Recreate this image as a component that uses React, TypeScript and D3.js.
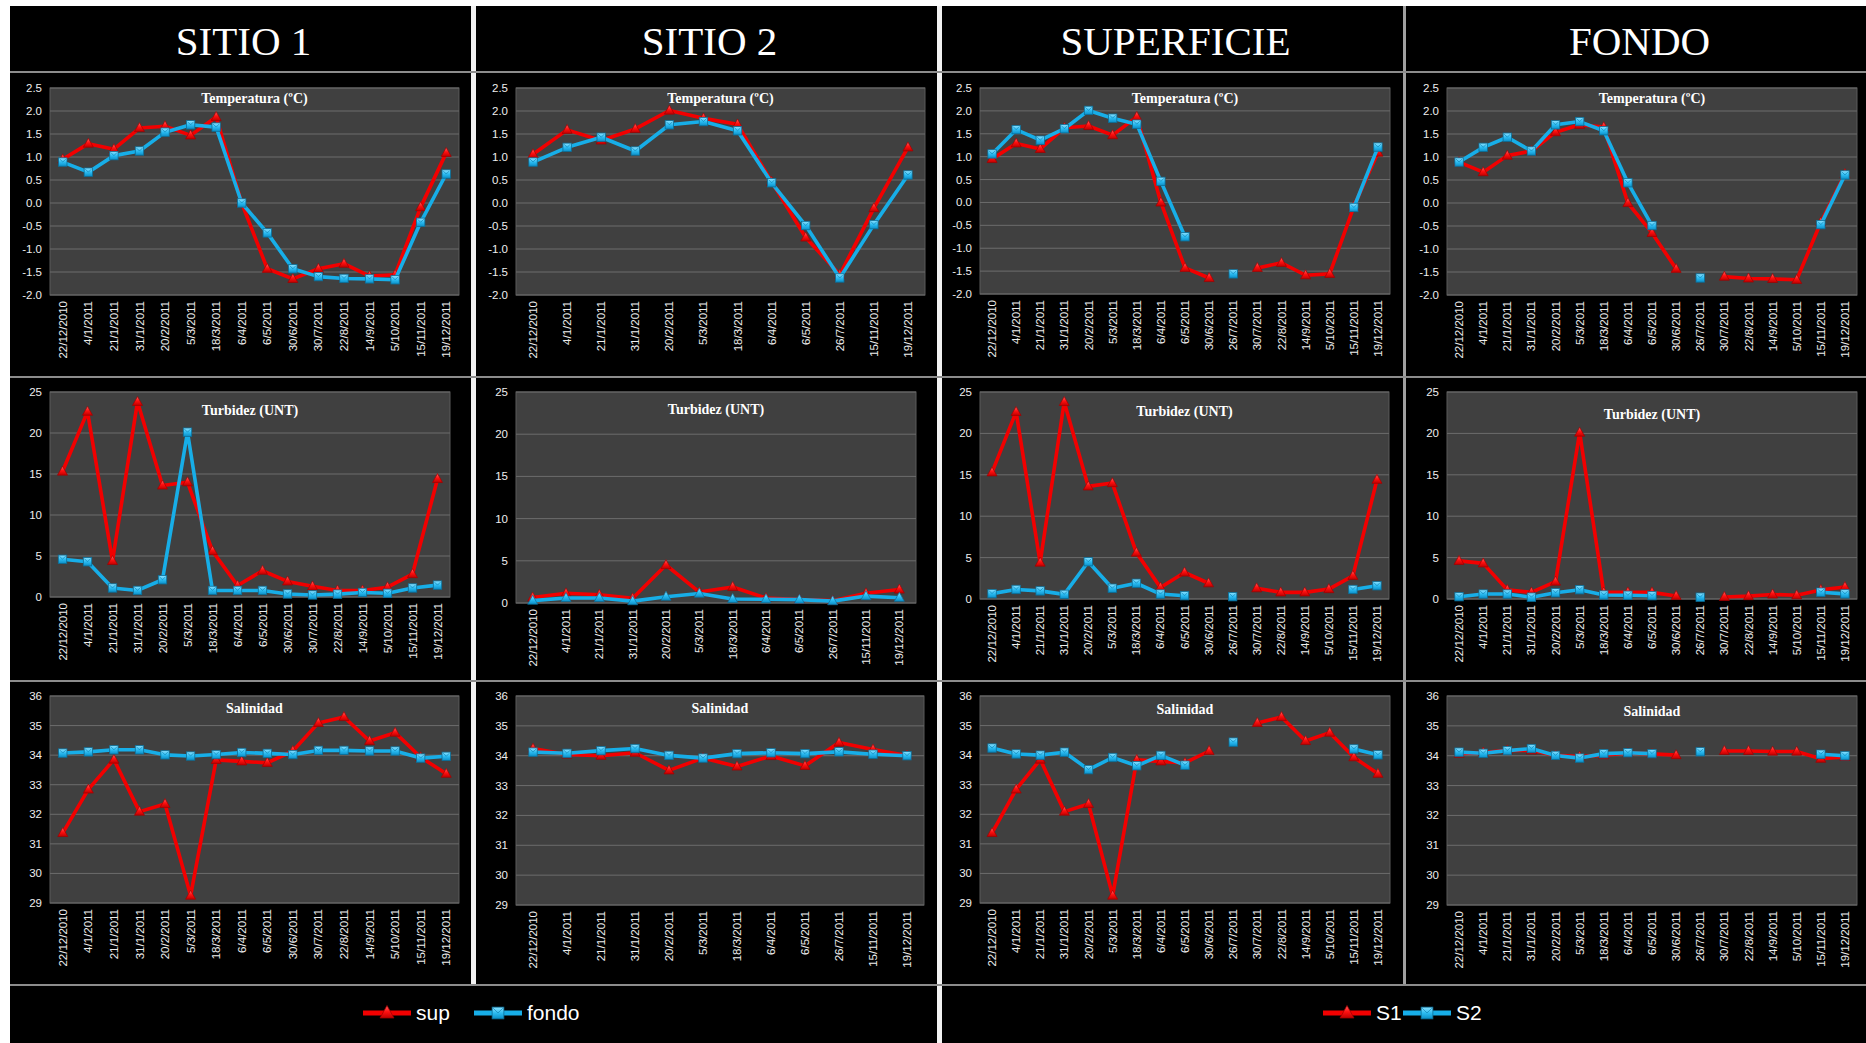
import React from 'react';
import * as d3 from 'd3';

// ---------- DATA ----------
const DATES_SITIO1 = ["22/12/2010","4/1/2011","21/1/2011","31/1/2011","20/2/2011","5/3/2011","18/3/2011","6/4/2011","6/5/2011","30/6/2011","30/7/2011","22/8/2011","14/9/2011","5/10/2011","15/11/2011","19/12/2011"];
const DATES_SITIO2 = ["22/12/2010","4/1/2011","21/1/2011","31/1/2011","20/2/2011","5/3/2011","18/3/2011","6/4/2011","6/5/2011","26/7/2011","15/11/2011","19/12/2011"];
const DATES_ALL = ["22/12/2010","4/1/2011","21/1/2011","31/1/2011","20/2/2011","5/3/2011","18/3/2011","6/4/2011","6/5/2011","30/6/2011","26/7/2011","30/7/2011","22/8/2011","14/9/2011","5/10/2011","15/11/2011","19/12/2011"];

const TEMP_S1_SUP = [0.95,1.29,1.17,1.63,1.67,1.47,1.87,0.0,-1.43,-1.65,-1.43,-1.32,-1.59,-1.56,-0.09,1.09];
const TEMP_S1_FONDO = [0.89,0.67,1.03,1.13,1.54,1.70,1.65,0.0,-0.65,-1.43,-1.60,-1.64,-1.65,-1.67,-0.42,0.63];
const TEMP_S2_SUP = [1.06,1.59,1.36,1.61,2.01,1.84,1.71,0.46,-0.75,-1.56,-0.11,1.21];
const TEMP_S2_FONDO = [0.89,1.21,1.43,1.13,1.70,1.77,1.57,0.44,-0.49,-1.63,-0.47,0.61];

const TURB_S1_SUP = [15.3,22.6,4.4,23.8,13.6,14.0,5.6,1.4,3.2,1.9,1.3,0.8,0.8,1.2,2.8,14.4];
const TURB_S1_FONDO = [4.6,4.3,1.1,0.8,2.1,20.1,0.8,0.8,0.8,0.37,0.25,0.35,0.55,0.45,1.1,1.45];
const TURB_S2_SUP = [0.65,1.15,0.98,0.56,4.5,1.3,1.9,0.6,0.4,0.28,1.15,1.6];
const TURB_S2_FONDO = [0.28,0.6,0.6,0.22,0.75,1.12,0.48,0.45,0.4,0.22,0.82,0.62];

const SAL_S1_SUP = [31.37,32.84,33.85,32.09,32.35,29.25,33.84,33.79,33.74,34.14,35.09,35.29,34.48,34.76,33.93,33.37];
const SAL_S1_FONDO = [34.07,34.11,34.18,34.18,34.01,33.97,34.02,34.09,34.06,34.02,34.16,34.16,34.14,34.14,33.90,33.96];
const SAL_S2_SUP = [34.24,34.04,34.00,34.10,33.51,33.92,33.64,33.99,33.66,34.44,34.21,34.01];
const SAL_S2_FONDO = [34.12,34.08,34.17,34.24,34.01,33.92,34.07,34.10,34.07,34.13,34.05,34.00];

const HEADERS = ["SITIO 1", "SITIO 2", "SUPERFICIE", "FONDO"];
const ROW_TITLES = ["Temperatura (ºC)", "Turbidez (UNT)", "Salinidad"];
const TEMP_TICKS = [-2.0,-1.5,-1.0,-0.5,0.0,0.5,1.0,1.5,2.0,2.5];
const TURB_TICKS = [0,5,10,15,20,25];
const SAL_TICKS = [29,30,31,32,33,34,35,36];
const LEGEND_SITE = ["sup", "fondo"];
const LEGEND_CMP = ["S1", "S2"];

// ---------- HELPERS ----------
type V = number | null;
function byDate(dates: string[], values: number[], target: string[]): V[] {
  return target.map(d => { const i = dates.indexOf(d); return i < 0 ? null : values[i]; });
}

const RED = "#f20000";
const BLUE = "#17aee8";
const W = 1866, H = 1043;

const COL_X0 = [10, 476, 942, 1407];
const COL_X1 = [471, 937, 1403, 1866];
const PLOT_LEFT = [50, 516, 980, 1447];
const PLOT_RIGHT = [[459, 925, 1390, 1857], [450, 916, 1389, 1857], [459, 924, 1390, 1857]];
const PLOT_TOP = [88, 392, 696];
const PLOT_BOTTOM = [[295, 295, 294, 295], [597, 603, 599, 599], [903, 905, 903, 905]];
const TITLE_Y = [[98, 98, 98, 98], [410, 409, 411, 414], [708, 708, 709, 711]];

const ROW_DEF = [
  { ticks: TEMP_TICKS, fmt: (v: number) => v.toFixed(1), s1: [TEMP_S1_SUP, TEMP_S1_FONDO], s2: [TEMP_S2_SUP, TEMP_S2_FONDO] },
  { ticks: TURB_TICKS, fmt: (v: number) => String(v), s1: [TURB_S1_SUP, TURB_S1_FONDO], s2: [TURB_S2_SUP, TURB_S2_FONDO] },
  { ticks: SAL_TICKS, fmt: (v: number) => String(v), s1: [SAL_S1_SUP, SAL_S1_FONDO], s2: [SAL_S2_SUP, SAL_S2_FONDO] },
];

function Triangle({ x, y, s = 1, blue = false }: { x: number; y: number; s?: number; blue?: boolean }) {
  const w = 5 * s, h = 9 * s;
  return <path d={`M${x},${y - h * 0.6}L${x + w},${y + h * 0.4}L${x - w},${y + h * 0.4}Z`} fill={blue ? "url(#gBlue)" : "url(#gRed)"} stroke={blue ? "#0b6f99" : "#a00000"} strokeWidth={0.7} />;
}
function Square({ x, y, s = 1 }: { x: number; y: number; s?: number }) {
  const a = 4.2 * s;
  return (
    <g>
      <rect x={x - a} y={y - a} width={2 * a} height={2 * a} fill="url(#gBlue)" stroke="#0b6f99" strokeWidth={0.8} />
      <path d={`M${x - a + 1},${y - a + 1}L${x},${y}L${x + a - 1},${y - a + 1}`} fill="none" stroke="#0d7fb0" strokeWidth={0.8} opacity={0.8} />
    </g>
  );
}

function Panel({ r, c }: { r: number; c: number }) {
  const def = ROW_DEF[r];
  let dates: string[], red: V[], blue: V[];
  if (c === 0) { dates = DATES_SITIO1; red = def.s1[0]; blue = def.s1[1]; }
  else if (c === 1) { dates = DATES_SITIO2; red = def.s2[0]; blue = def.s2[1]; }
  else {
    const k = c === 2 ? 0 : 1;
    dates = DATES_ALL;
    red = byDate(DATES_SITIO1, def.s1[k], DATES_ALL);
    blue = byDate(DATES_SITIO2, def.s2[k], DATES_ALL);
  }
  const left = PLOT_LEFT[c], right = PLOT_RIGHT[r][c], top = PLOT_TOP[r], bottom = PLOT_BOTTOM[r][c];
  const x = d3.scalePoint<string>().domain(dates).range([left, right]).padding(0.5);
  const ticks = def.ticks;
  const y = d3.scaleLinear().domain([ticks[0], ticks[ticks.length - 1]]).range([bottom, top]);
  const line = d3.line<V>().defined(v => v != null).x((_, i) => x(dates[i])!).y(v => y(v as number));
  const blueTri = r === 1 && c === 1;
  return (
    <g>
      <rect x={left} y={top} width={right - left} height={bottom - top} fill="#404040" stroke="#5a5a5a" strokeWidth={1} />
      {ticks.map(t => (
        <line key={t} x1={left} x2={right} y1={y(t)} y2={y(t)} stroke="#6c6c6c" strokeWidth={1} />
      ))}
      {ticks.map(t => (
        <text key={'l' + t} x={left - 8} y={y(t)} dy="0.35em" textAnchor="end" fill="#eeeeee" fontFamily="Arial, 'Liberation Sans', sans-serif" fontSize={11.5}>{def.fmt(t)}</text>
      ))}
      {dates.map(d => (
        <text key={d} transform={`translate(${x(d)},${bottom + 6}) rotate(-90)`} dy="0.35em" textAnchor="end" fill="#eeeeee" fontFamily="Arial, 'Liberation Sans', sans-serif" fontSize={11.5}>{d}</text>
      ))}
      <text x={(left + right) / 2} y={TITLE_Y[r][c]} dy="0.35em" textAnchor="middle" fill="#ffffff" fontFamily="'Liberation Serif', 'Times New Roman', serif" fontWeight="bold" fontSize={14}>{ROW_TITLES[r]}</text>
      <path d={line(red) || ''} fill="none" stroke={RED} strokeWidth={3.6} strokeLinejoin="round" />
      {red.map((v, i) => v == null ? null : <Triangle key={'r' + i} x={x(dates[i])!} y={y(v)} />)}
      <path d={line(blue) || ''} fill="none" stroke={BLUE} strokeWidth={3.6} strokeLinejoin="round" />
      {blue.map((v, i) => v == null ? null : (blueTri ? <Triangle key={'b' + i} x={x(dates[i])!} y={y(v)} blue /> : <Square key={'b' + i} x={x(dates[i])!} y={y(v)} />))}
    </g>
  );
}

function LegendItem({ x, y, label, kind }: { x: number; y: number; label: string; kind: 'red' | 'blue' }) {
  const w = 48;
  return (
    <g>
      <line x1={x} x2={x + w} y1={y} y2={y} stroke={kind === 'red' ? RED : BLUE} strokeWidth={5} />
      {kind === 'red' ? <Triangle x={x + w / 2} y={y} s={1.4} /> : <Square x={x + w / 2} y={y} s={1.4} />}
      <text x={x + w + 5} y={y} dy="0.35em" fill="#ffffff" fontFamily="Arial, 'Liberation Sans', sans-serif" fontSize={21}>{label}</text>
    </g>
  );
}

export default function App() {
  return (
    <svg width={W} height={H} style={{ position: 'absolute', left: 0, top: 0, display: 'block' }}>
      <defs>
        <linearGradient id="gBlue" x1="0" y1="0" x2="0" y2="1">
          <stop offset="0" stopColor="#8fe2ff" />
          <stop offset="0.5" stopColor="#2cbcf2" />
          <stop offset="1" stopColor="#0a8fc8" />
        </linearGradient>
        <linearGradient id="gRed" x1="0" y1="0" x2="0" y2="1">
          <stop offset="0" stopColor="#ff6a6a" />
          <stop offset="0.5" stopColor="#ff1010" />
          <stop offset="1" stopColor="#c00000" />
        </linearGradient>
      </defs>
      <rect width={W} height={H} fill="#ffffff" />
      <rect x={10} y={6} width={W - 10} height={H - 6} fill="#000000" />
      {/* separators */}
      <rect x={471} y={6} width={5} height={979} fill="#f2f2f2" />
      <rect x={937} y={6} width={5} height={H - 6} fill="#f2f2f2" />
      <rect x={1403} y={6} width={3} height={979} fill="#a0a0a0" />
      {[71, 376, 680].map(yy => <rect key={yy} x={10} y={yy} width={W - 10} height={2} fill="#8c8c8c" />)}
      <rect x={10} y={984} width={W - 10} height={2} fill="#8c8c8c" />
      {/* headers */}
      {HEADERS.map((h, i) => (
        <text key={h} x={(COL_X0[i] + COL_X1[i]) / 2 + 3} y={55} textAnchor="middle" fill="#ffffff" fontFamily="'Liberation Serif', 'Times New Roman', serif" fontSize={41}>{h}</text>
      ))}
      {[0, 1, 2].map(r => [0, 1, 2, 3].map(c => <Panel key={r + '-' + c} r={r} c={c} />))}
      {/* legends */}
      <LegendItem x={363} y={1013} label={LEGEND_SITE[0]} kind="red" />
      <LegendItem x={474} y={1013} label={LEGEND_SITE[1]} kind="blue" />
      <LegendItem x={1323} y={1013} label={LEGEND_CMP[0]} kind="red" />
      <LegendItem x={1403} y={1013} label={LEGEND_CMP[1]} kind="blue" />
    </svg>
  );
}
